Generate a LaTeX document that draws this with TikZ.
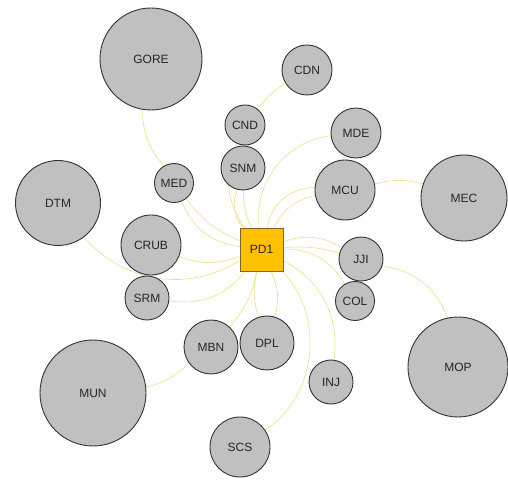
\documentclass[tikz,border=0pt]{standalone}
\usepackage{fontspec}
\setmainfont{Liberation Sans}
\usetikzlibrary{backgrounds}
\definecolor{nodegray}{HTML}{C0C0C0}
\definecolor{nodeline}{HTML}{333333}
\definecolor{edgeyel}{HTML}{EEDD88}
\definecolor{pdfill}{HTML}{FFC000}
\definecolor{pdline}{HTML}{7A6420}
\begin{document}
\begin{tikzpicture}[x=1pt,y=1pt,
  bub/.style={circle,draw=nodeline,fill=nodegray,line width=0.9pt,inner sep=0pt,
     font=\fontsize{12}{12}\selectfont,text=black!85},
  hub/.style={rectangle,draw=pdline,fill=pdfill,line width=0.9pt,minimum size=43pt,inner sep=0pt,
     font=\fontsize{12}{12}\selectfont,text=black!85},
  edge/.style={draw=edgeyel,line width=0.6pt}]
\useasboundingbox (0,0) rectangle (508,479);
\node[hub] (PD1) at (261.5,229.5) {PD1};
\node[bub,minimum size=102pt] (GORE) at (151,420) {GORE};
\node[bub,minimum size=50pt] (CDN) at (307,409) {CDN};
\node[bub,minimum size=40pt] (CND) at (245,354) {CND};
\node[bub,minimum size=50pt] (MDE) at (356,346) {MDE};
\node[bub,minimum size=44pt] (SNM) at (243,311) {SNM};
\node[bub,minimum size=39pt] (MED) at (174,296) {MED};
\node[bub,minimum size=60pt] (MCU) at (345,289) {MCU};
\node[bub,minimum size=86pt] (MEC) at (464,281) {MEC};
\node[bub,minimum size=85pt] (DTM) at (58,276) {DTM};
\node[bub,minimum size=60pt] (CRUB) at (151,234) {CRUB};
\node[bub,minimum size=44pt] (JJI) at (361,220) {JJI};
\node[bub,minimum size=44pt] (SRM) at (147,181) {SRM};
\node[bub,minimum size=39pt] (COL) at (355,178) {COL};
\node[bub,minimum size=54pt] (DPL) at (267,136) {DPL};
\node[bub,minimum size=54pt] (MBN) at (211,132) {MBN};
\node[bub,minimum size=44pt] (INJ) at (331,97) {INJ};
\node[bub,minimum size=106pt] (MUN) at (93,86) {MUN};
\node[bub,minimum size=100pt] (MOP) at (458,112) {MOP};
\node[bub,minimum size=60pt] (SCS) at (240,32) {SCS};
\begin{scope}[on background layer]
\draw[edge] (GORE) to[bend right=20] (MED);
\draw[edge] (MED) to[bend right=15] (PD1);
\draw[edge] (MED) to[bend right=30] (PD1);
\draw[edge] (CND) to[bend right=30] (PD1);
\draw[edge] (SNM) to[bend right=12] (PD1);
\draw[edge] (SNM) to[bend right=28] (PD1);
\draw[edge] (CDN) to[bend right=10] (CND);
\draw[edge] (MDE) to[bend right=45] (PD1);
\draw[edge] (MCU) to[bend right=25] (PD1);
\draw[edge] (MCU) to[bend right=40] (PD1);
\draw[edge] (MCU) to[bend left=15] (MEC);
\draw[edge] (PD1) to[bend left=25] (JJI);
\draw[edge] (PD1) to[bend left=10] (JJI);
\draw[edge] (PD1) to[bend left=30] (COL);
\draw[edge] (PD1) to[bend left=35] (INJ);
\draw[edge] (JJI) to[bend left=30] (MOP);
\draw[edge] (PD1) to[bend left=50] (SCS);
\draw[edge] (PD1) to[bend right=15] (DPL);
\draw[edge] (PD1) to[bend left=20] (DPL);
\draw[edge] (PD1) to[bend left=15] (MBN);
\draw[edge] (MUN) to[bend right=15] (MBN);
\draw[edge] (SRM) to[bend right=30] (PD1);
\draw[edge] (CRUB) to[bend right=20] (PD1);
\draw[edge] (DTM) to[bend right=40] (PD1);
\end{scope}
\end{tikzpicture}
\end{document}
